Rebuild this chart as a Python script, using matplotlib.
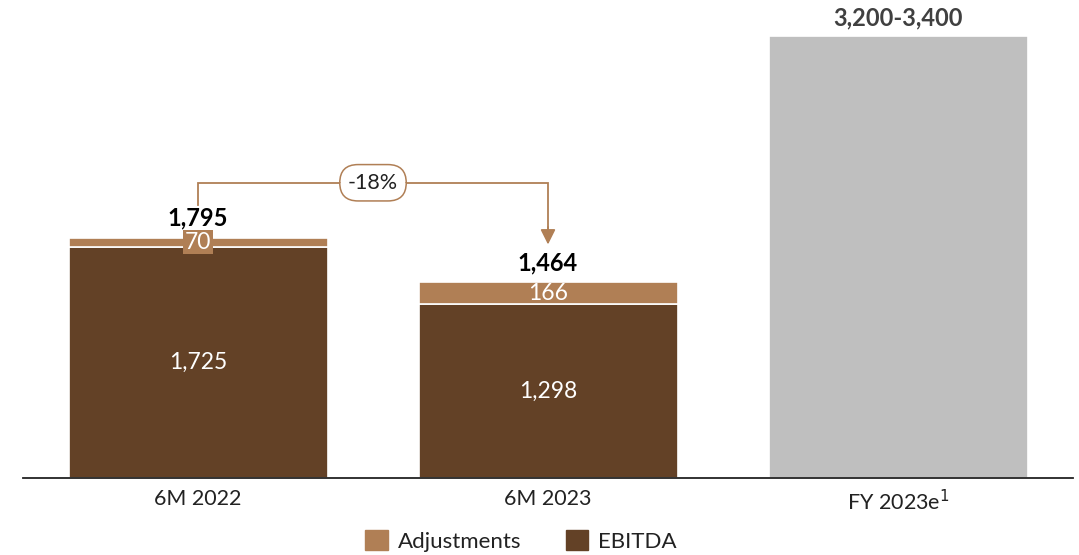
import matplotlib
matplotlib.use("Agg")
import matplotlib.pyplot as plt
from matplotlib.patches import Patch

plt.rcParams['font.family'] = ['Lato', 'DejaVu Sans']

categories = ["6M 2022", "6M 2023", "FY 2023e$^{1}$"]
ebitda = [1725, 1298]
adjustments = [70, 166]
totals = [1795, 1464]
guidance_mid = 3300
guidance_label = "3,200-3,400"
change_label = "-18%"

c_ebitda = "#634126"
c_adj = "#B07F55"
c_guid = "#BFBFBF"

fig = plt.figure(figsize=(10.79, 5.55), dpi=100)
ax = fig.add_axes([23/1079, 77/555, 1050/1079, 478/555])

x = [0, 1, 2]
w = 0.74
ax.bar(x[:2], ebitda, width=w, color=c_ebitda, edgecolor="white", linewidth=1.2, zorder=2)
ax.bar(x[:2], adjustments, bottom=ebitda, width=w, color=c_adj, edgecolor="white", linewidth=1.2, zorder=2)
ax.bar(x[2], guidance_mid, width=w, color=c_guid, edgecolor="white", linewidth=1.2, zorder=2)

# value labels inside bars
for i in range(2):
    ax.text(x[i], ebitda[i] / 2, f"{ebitda[i]:,}", ha="center", va="center",
            color="white", fontsize=16.5)
ax.text(x[0], ebitda[0] + adjustments[0] / 2, f"{adjustments[0]:,}", ha="center", va="center",
        color="white", fontsize=16.5,
        bbox=dict(boxstyle="square,pad=0.06", fc=c_adj, ec="none"))
ax.text(x[1], ebitda[1] + adjustments[1] / 2, f"{adjustments[1]:,}", ha="center", va="center",
        color="white", fontsize=16.5)

# totals above bars
for i in range(2):
    ax.annotate(f"{totals[i]:,}", (x[i], totals[i]), xytext=(0, 14), textcoords="offset points",
                ha="center", va="center", fontsize=17, fontweight="bold", color="black")
ax.annotate(guidance_label, (x[2], guidance_mid), xytext=(0, 13), textcoords="offset points",
            ha="center", va="center", fontsize=17, fontweight="bold", color="#404040")

# change bracket between the two half-year totals
y_top = totals[0] + 410
ax.plot([x[0], x[0], x[1], x[1]], [totals[0] + 245, y_top, y_top, totals[1] + 400],
        color=c_adj, lw=1.3, zorder=3, solid_joinstyle="miter")
ax.annotate("", xy=(x[1], totals[1] + 280), xytext=(x[1], totals[1] + 410),
            arrowprops=dict(arrowstyle="-|>,head_length=0.9,head_width=0.45", color=c_adj, lw=1.3,
                            shrinkA=0, shrinkB=0), zorder=3)
ax.text((x[0] + x[1]) / 2, y_top, change_label, ha="center", va="center", fontsize=15.5,
        color="#222222", zorder=4,
        bbox=dict(boxstyle="round,pad=0.38,rounding_size=0.85", fc="white", ec=c_adj, lw=1.1))

ax.set_xlim(-0.5, 2.5)
ax.set_ylim(0, 3570)
ax.set_xticks(x)
ax.set_xticklabels(categories, fontsize=15.5, color="#222222")
ax.tick_params(axis="x", length=0, pad=8)
ax.set_yticks([])
for s in ["top", "right", "left"]:
    ax.spines[s].set_visible(False)
ax.spines["bottom"].set_color("#222222")
ax.spines["bottom"].set_linewidth(1.3)

handles = [Patch(color=c_adj, label="Adjustments"), Patch(color=c_ebitda, label="EBITDA")]
fig.legend(handles=handles, loc="center", bbox_to_anchor=(521/1079, 14/555), ncol=2,
           frameon=False, fontsize=16, handlelength=1.0, handleheight=1.0,
           handletextpad=0.45, columnspacing=2.0, labelcolor="#222222")

fig.savefig("out.png", dpi=100)
